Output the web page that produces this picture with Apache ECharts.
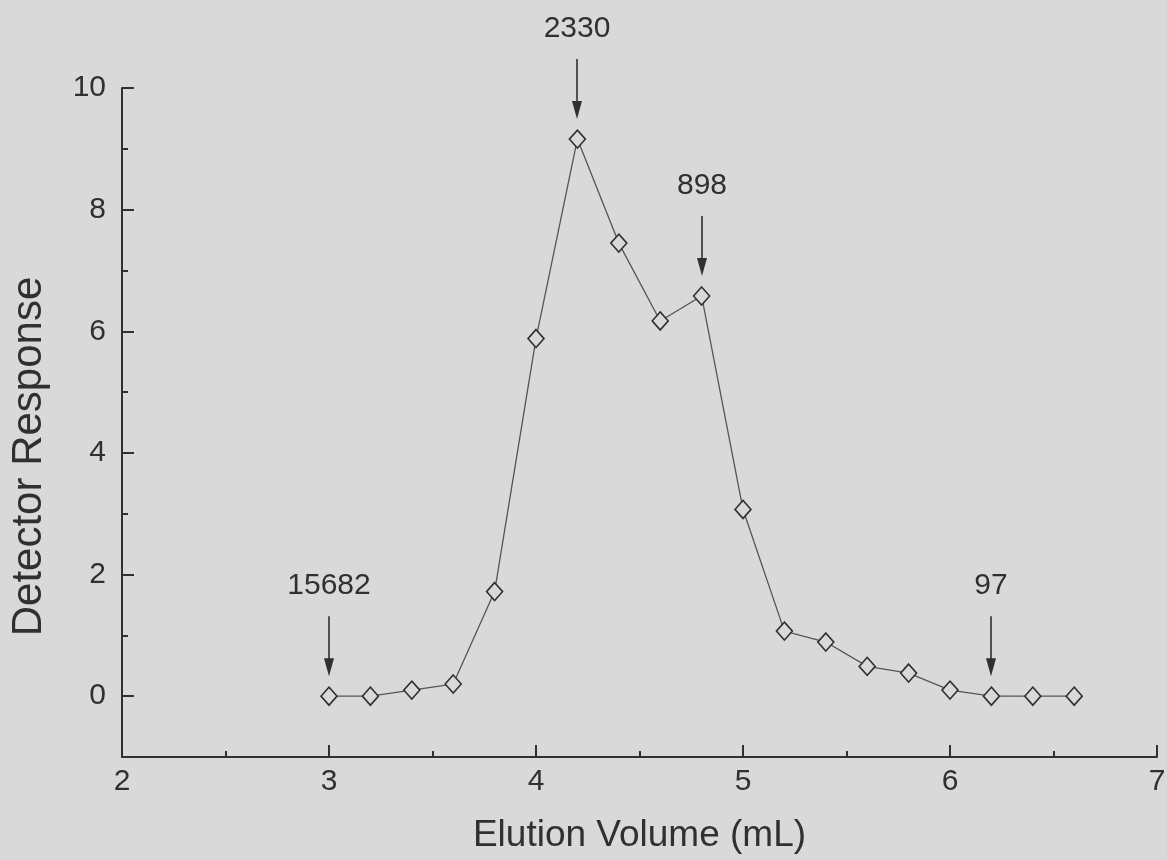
<!DOCTYPE html>
<html>
<head>
<meta charset="utf-8">
<script src="https://cdn.jsdelivr.net/npm/echarts@6/dist/echarts.min.js"></script>
<style>
html,body{margin:0;padding:0;background:#d9d9d9;}
#chart{width:1167px;height:860px;}
</style>
</head>
<body>
<div id="chart"></div>
<script>
// ---- data ----
const elutionVolumes = [3.0, 3.2, 3.4, 3.6, 3.8, 4.0, 4.2, 4.4, 4.6, 4.8, 5.0, 5.2, 5.4, 5.6, 5.8, 6.0, 6.2, 6.4, 6.6];
const detectorResponse = [0, 0, 0.1, 0.2, 1.72, 5.88, 9.16, 7.45, 6.17, 6.58, 3.07, 1.07, 0.89, 0.49, 0.38, 0.1, 0, 0, 0];
const markedPointIndices = [0, 6, 9, 16];
const markedPointLabels = ['15682', '2330', '898', '97'];
const yMajorTicks = [0, 2, 4, 6, 8, 10];
const yMinorTicks = [1, 3, 5, 7, 9];

// ---- styles ----
const BG = '#d9d9d9';
const INK = '#303030';
const FONT = '"Liberation Sans", Arial, sans-serif';

const chart = echarts.init(document.getElementById('chart'), null, {renderer: 'canvas'});

const lineData = elutionVolumes.map((x, i) => [x, detectorResponse[i]]);
const markData = markedPointIndices.map(i => [elutionVolumes[i], detectorResponse[i]]);

chart.setOption({
  backgroundColor: BG,
  animation: false,
  grid: {left: 122, right: 10, top: 88, bottom: 103, containLabel: false, outerBoundsMode: 'none'},
  xAxis: {
    type: 'value', min: 2, max: 7, interval: 1,
    axisLine: {show: true, onZero: false, lineStyle: {color: INK, width: 2}},
    axisTick: {show: true, inside: true, length: 12, lineStyle: {color: INK, width: 2}},
    minorTick: {show: true, splitNumber: 2, length: 6, lineStyle: {color: INK, width: 2}},
    axisLabel: {fontSize: 30, fontFamily: FONT, color: INK, margin: 10},
    splitLine: {show: false},
    name: 'Elution Volume (mL)', nameLocation: 'middle', nameGap: 60,
    nameTextStyle: {fontSize: 37, fontFamily: FONT, color: INK}
  },
  yAxis: [{
    type: 'value', min: -1, max: 10, interval: 1,
    axisLine: {show: true, onZero: false, lineStyle: {color: INK, width: 2}},
    axisTick: {show: true, inside: true, length: 12, customValues: yMajorTicks, lineStyle: {color: INK, width: 2}},
    axisLabel: {fontSize: 30, fontFamily: FONT, color: INK, margin: 16, customValues: yMajorTicks},
    splitLine: {show: false},
    name: 'Detector Response', nameLocation: 'middle', nameGap: 72,
    nameTextStyle: {fontSize: 42, fontFamily: FONT, color: INK, padding: [0, 68, 0, 0]}
  }, {
    type: 'value', min: -1, max: 10, interval: 1, position: 'left',
    axisLine: {show: false, onZero: false},
    axisTick: {show: true, inside: true, length: 6, customValues: yMinorTicks, lineStyle: {color: INK, width: 2}},
    axisLabel: {show: false},
    splitLine: {show: false}
  }],
  series: [{
    type: 'line',
    data: lineData,
    symbol: 'diamond',
    symbolSize: [16, 18],
    lineStyle: {color: '#555', width: 1.3},
    itemStyle: {color: BG, borderColor: INK, borderWidth: 1.6},
    z: 3
  }, {
    type: 'custom',
    data: markData,
    clip: false,
    z: 4,
    renderItem: function (params, api) {
      const p = api.coord([api.value(0), api.value(1)]);
      const x = Math.round(p[0]);
      const y = p[1];
      return {
        type: 'group',
        children: [
          {type: 'line', shape: {x1: x, y1: y - 80, x2: x, y2: y - 34},
           style: {stroke: INK, lineWidth: 1.6}},
          {type: 'polygon', shape: {points: [[x - 5, y - 38], [x + 5, y - 38], [x, y - 20]]},
           style: {fill: INK}},
          {type: 'text', x: x, y: y - 110,
           style: {text: markedPointLabels[params.dataIndex], font: '30px ' + FONT,
                   fill: INK, align: 'center', verticalAlign: 'middle'}}
        ]
      };
    }
  }]
});
</script>
</body>
</html>
